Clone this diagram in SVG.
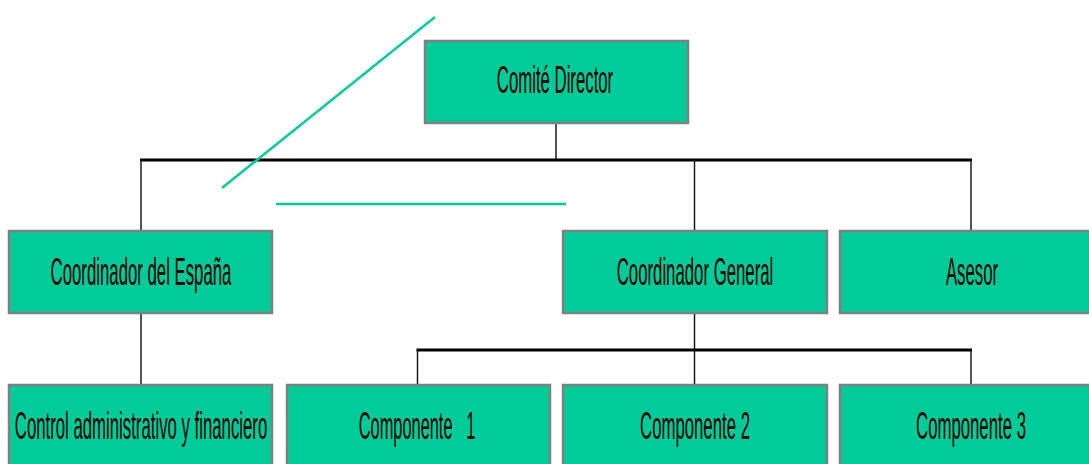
<svg xmlns="http://www.w3.org/2000/svg" width="1089" height="464" viewBox="0 0 1089 464">
<style>
.box{fill:#00CC99;stroke:#808080;stroke-width:2.5}
.lbl{font-family:"Liberation Sans",Arial,sans-serif;font-size:39px;fill:#000;text-anchor:middle}
.thin{stroke:#1a1a1a;stroke-width:1.5;fill:none}
.bar{stroke:#000;stroke-width:3;fill:none}
.deco{stroke:#00CC99;stroke-width:2.5;fill:none}
</style>
<rect width="1089" height="464" fill="#fff"/>
<g id="connectors">
<line class="thin" x1="556" y1="123" x2="556" y2="160"/>
<line class="bar" x1="140" y1="160" x2="972" y2="160"/>
<line class="thin" x1="141" y1="160" x2="141" y2="231"/>
<line class="thin" x1="694.5" y1="160" x2="694.5" y2="231"/>
<line class="thin" x1="971" y1="160" x2="971" y2="231"/>
<line class="thin" x1="141" y1="313" x2="141" y2="385"/>
<line class="thin" x1="694.5" y1="313" x2="694.5" y2="350"/>
<line class="bar" x1="416.5" y1="350" x2="972" y2="350"/>
<line class="thin" x1="417.5" y1="350" x2="417.5" y2="385"/>
<line class="thin" x1="694.5" y1="350" x2="694.5" y2="385"/>
<line class="thin" x1="971" y1="350" x2="971" y2="385"/>
</g>
<g id="decor">
<line class="deco" x1="435" y1="17" x2="222" y2="188"/>
<line class="deco" x1="276" y1="204" x2="566" y2="204"/>
</g>
<g id="comite">
<rect class="box" x="425" y="41" width="263" height="82"/>
<text class="lbl" transform="translate(555,93) scale(0.43,1)">Comité Director</text>
</g>
<g id="coord-espana">
<rect class="box" x="9" y="231" width="263" height="82"/>
<text class="lbl" transform="translate(141,285) scale(0.43,1)">Coordinador del España</text>
</g>
<g id="coord-general">
<rect class="box" x="563" y="231" width="264" height="82"/>
<text class="lbl" transform="translate(695,285) scale(0.43,1)">Coordinador General</text>
</g>
<g id="asesor">
<rect class="box" x="840" y="231" width="260" height="82"/>
<text class="lbl" transform="translate(972,285) scale(0.43,1)">Asesor</text>
</g>
<g id="control">
<rect class="box" x="9" y="385" width="263" height="90"/>
<text class="lbl" transform="translate(141,439) scale(0.43,1)">Control administrativo y financiero</text>
</g>
<g id="componente1">
<rect class="box" x="287" y="385" width="263" height="90"/>
<text class="lbl" transform="translate(417,439) scale(0.42,1)" xml:space="preserve">Componente   1</text>
</g>
<g id="componente2">
<rect class="box" x="563" y="385" width="264" height="90"/>
<text class="lbl" transform="translate(695,439) scale(0.43,1)">Componente 2</text>
</g>
<g id="componente3">
<rect class="box" x="840" y="385" width="264" height="90"/>
<text class="lbl" transform="translate(971,439) scale(0.43,1)">Componente 3</text>
</g>
</svg>
